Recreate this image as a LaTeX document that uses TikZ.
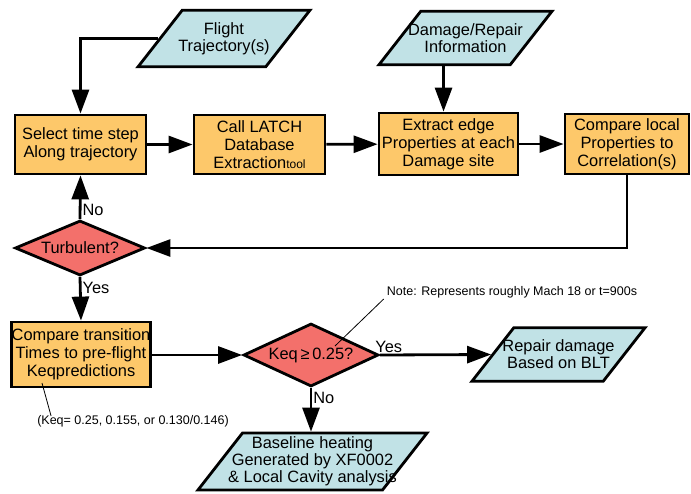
\documentclass[tikz,border=0pt]{standalone}
\usepackage{fontspec}
\setmainfont{Liberation Sans}
\usepackage{tikz}
\usetikzlibrary{shapes.geometric,arrows.meta}

\definecolor{boxorange}{RGB}{253,200,106}
\definecolor{decred}{RGB}{243,112,107}
\definecolor{datablue}{RGB}{193,226,230}

\begin{document}
\begin{tikzpicture}[x=1pt, y=-1pt,
		flow/.style={line width=2.8pt, -{Triangle[length=24pt,width=17pt]}},
		procbox/.style={rectangle, draw, line width=2.8pt, fill=boxorange, align=center, inner sep=0pt, font=\fontsize{16.4}{17.8}\selectfont},
		databox/.style={trapezium, trapezium left angle=52, trapezium right angle=128, trapezium stretches body=true, draw, line width=2.8pt, fill=datablue, align=center, inner xsep=0pt, inner ysep=12.3pt, font=\fontsize{16.4}{16.8}\selectfont},
		decbox/.style={diamond, draw, line width=2.8pt, fill=decred, inner sep=0pt, font=\fontsize{16.4}{17.8}\selectfont},
		lbl/.style={font=\fontsize{16.4}{17.8}\selectfont, inner sep=1pt},
		note/.style={font=\fontsize{12.5}{14}\selectfont, inner sep=0pt}]
		\useasboundingbox (0,0) rectangle (691,493);

		\node[databox, minimum width=172pt, inner xsep=-4.5pt] at (224,38.5) (flight) {Flight\\Trajectory(s)};
		\node[databox, minimum width=173pt, inner xsep=-15pt] at (465.5,38) (damage) {Damage/Repair\\Information};

		\node[procbox, minimum width=131pt, minimum height=59pt] at (80.5,144.5) (select) {Select time step\\Along trajectory};
		\node[procbox, minimum width=131pt, minimum height=59pt] at (259.5,144.5) (latch) {Call LATCH\\Database\\Extraction{\fontsize{12}{14}\selectfont tool}};
		\node[procbox, minimum width=139pt, minimum height=62pt] at (448.5,144) (extract) {Extract edge\\Properties at each\\Damage site};
		\node[procbox, minimum width=124pt, minimum height=60pt] at (627,144) (corr) {Compare local\\Properties to\\Correlation(s)};

		\node[decbox, minimum width=130pt, minimum height=55pt, aspect=2.36] at (80,248) (turb) {Turbulent?};
		\node[procbox, minimum width=138pt, minimum height=65pt] at (81,354.5) (trans) {Compare transition\\Times to pre-flight\\Keqpredictions};
		\node[decbox, minimum width=135pt, minimum height=63pt, aspect=2.14] at (311,355) (keq) {Keq\,≥\,0.25?};
		\node[databox, minimum width=173pt, inner xsep=-14pt] at (558.5,354.5) (repair) {Repair damage\\Based on BLT};
		\node[databox, minimum width=229pt, inner xsep=-14.5pt, inner ysep=4pt] at (312.5,461.5) (base) {Baseline heating\\Generated by XF0002\\\& Local Cavity analysis};

		\node[note] at (512,292) (machnote) {Note: Represents roughly Mach 18 or t=900s};
		\node[note] at (133,421) (keqnote) {(Keq= 0.25, 0.155, or 0.130/0.146)};
		\coordinate (notept) at (335,346);
		\coordinate (keqpt) at (42,383);

		\draw[flow] (flight.left side) -| (select.north);
		\draw[flow] (damage.bottom side) -- (damage.bottom side |- extract.north);
		\draw[flow] (select) -- (latch);
		\draw[flow] (latch) -- (extract);
		\draw[flow] (extract) -- (corr);
		\draw[flow] (corr.south) |- (turb.east);
		\draw[flow] (turb.north) -- node[lbl, right, pos=0.2] {No} (select.south);
		\draw[flow] (turb.south) -- node[lbl, right, pos=0.26] {Yes} (trans.north);
		\draw[flow] (trans.east |- keq.west) -- (keq.west);
		\draw[flow] (keq.east) -- node[lbl, above, pos=0.08] {Yes} (repair.left side);
		\draw[flow] (keq.south) -- node[lbl, right, pos=0.23] {No} (keq.south |- base.north);

		\draw[line width=0.8pt] ([xshift=-3pt,yshift=-1pt]machnote.south west) -- (notept);
		\draw[line width=0.8pt] ([xshift=14pt,yshift=-1pt]keqnote.north west) -- (keqpt);
	\end{tikzpicture}
\end{document}
